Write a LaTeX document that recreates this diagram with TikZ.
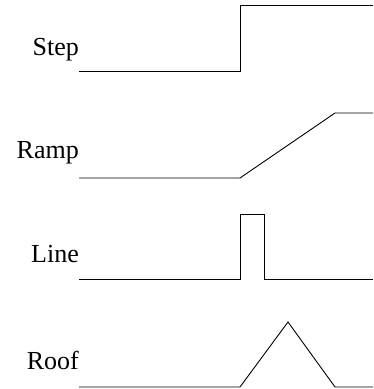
\documentclass[tikz,border=0pt]{standalone}
\usepackage{fontspec}
\setmainfont{Liberation Serif}
\begin{document}
\begin{tikzpicture}[x=1pt,y=-1pt,
  lbl/.style={anchor=base east,inner sep=0pt,font=\fontsize{26}{31}\selectfont},
  sig/.style={line width=0.9pt,line join=miter}]
\useasboundingbox (0,0) rectangle (373,389);
\node[lbl] (step) at (79,55) {Step};
\node[lbl] (ramp) at (79,158) {Ramp};
\node[lbl] (line) at (79,262) {Line};
\node[lbl] (roof) at (79,369) {Roof};
\draw[sig] (79,71) -- (240,71) -- (240,5) -- (373,5);
\draw[sig] (79,178) -- (240,178) -- (335,113) -- (373,113);
\draw[sig] (79,279) -- (240,279) -- (240,214) -- (264,214) -- (264,279) -- (373,279);
\draw[sig] (79,387) -- (240,387) -- (288,322) -- (335,387) -- (373,387);
\end{tikzpicture}
\end{document}
